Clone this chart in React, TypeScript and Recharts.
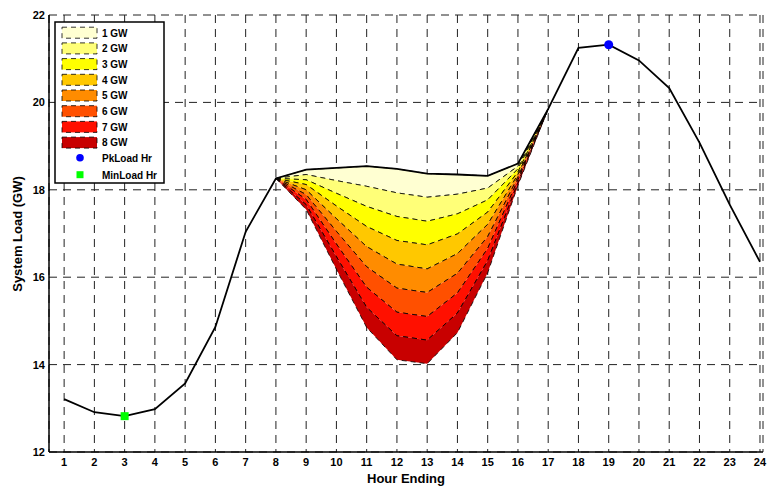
import type { ReactElement } from 'react'
import { Area, CartesianGrid, ComposedChart, Label, Line, Scatter, XAxis, YAxis } from 'recharts'

// 毎時のシステム負荷 (GW)
const HOURS = [1, 2, 3, 4, 5, 6, 7, 8, 9, 10, 11, 12, 13, 14, 15, 16, 17, 18, 19, 20, 21, 22, 23, 24]
const SYSTEM_LOAD = [
  13.21, 12.91, 12.82, 12.98, 13.57, 14.86, 17.04, 18.26, 18.46, 18.5, 18.54, 18.48, 18.37, 18.35,
  18.32, 18.6, 19.85, 21.25, 21.32, 20.96, 20.33, 19.08, 17.66, 16.35,
]

// シフト帯の下端 (hour 8..17)
const SHIFT_HOURS = [8, 9, 10, 11, 12, 13, 14, 15, 16, 17]
const LEVEL_1GW = [18.26, 18.35, 18.21, 18.08, 17.93, 17.83, 17.9, 18.04, 18.54, 19.85]
const LEVEL_2GW = [18.26, 18.23, 17.92, 17.62, 17.39, 17.28, 17.45, 17.77, 18.48, 19.85]
const LEVEL_3GW = [18.26, 18.12, 17.63, 17.16, 16.84, 16.74, 16.99, 17.49, 18.41, 19.85]
const LEVEL_4GW = [18.26, 18.0, 17.34, 16.7, 16.3, 16.19, 16.54, 17.21, 18.35, 19.85]
const LEVEL_5GW = [18.26, 17.89, 17.05, 16.24, 15.75, 15.65, 16.09, 16.93, 18.29, 19.85]
const LEVEL_6GW = [18.26, 17.78, 16.76, 15.77, 15.2, 15.1, 15.64, 16.66, 18.23, 19.85]
const LEVEL_7GW = [18.26, 17.66, 16.47, 15.31, 14.66, 14.56, 15.18, 16.38, 18.16, 19.85]
const LEVEL_8GW = [18.26, 17.55, 16.18, 14.85, 14.11, 14.02, 14.73, 16.1, 18.1, 19.85]
const LEVELS = [LEVEL_1GW, LEVEL_2GW, LEVEL_3GW, LEVEL_4GW, LEVEL_5GW, LEVEL_6GW, LEVEL_7GW, LEVEL_8GW]

const BAND_NAMES = ['1 GW', '2 GW', '3 GW', '4 GW', '5 GW', '6 GW', '7 GW', '8 GW']
const BAND_COLORS = ['#ffffd2', '#ffff78', '#ffff00', '#ffc800', '#ff8c00', '#ff5000', '#ff1000', '#c80000']

const PEAK_HOUR = 19
const MIN_HOUR = 3
const Y_TICKS = [12, 14, 16, 18, 20, 22]

const FONT = '"Liberation Sans", Arial, sans-serif'
const tickStyle = { fontFamily: FONT, fontWeight: 700, fontSize: 11, fill: '#000' }

type Row = Record<string, number | number[] | undefined>

function buildRows(): Row[] {
  return HOURS.map((h, i) => {
    const row: Row = { hour: h, load: SYSTEM_LOAD[i] }
    const j = SHIFT_HOURS.indexOf(h)
    if (j >= 0) {
      LEVELS.forEach((lv, k) => {
        const upper = k === 0 ? SYSTEM_LOAD[i] : LEVELS[k - 1][j]
        row[`b${k}`] = [lv[j], upper]
      })
    }
    return row
  })
}

function LegendBox(): ReactElement {
  const rowY = [32.7, 48.4, 64.1, 79.8, 95.5, 111.2, 126.9, 142.6]
  return (
    <svg
      width={767}
      height={487}
      style={{ position: 'absolute', left: 0, top: 0, pointerEvents: 'none' }}
    >
      <rect x={55} y={22} width={109} height={161} fill="#fff" stroke="#000" strokeWidth={1.5} />
      {BAND_NAMES.map((name, k) => (
        <g key={name}>
          <rect
            x={62}
            y={rowY[k] - 5.5}
            width={35}
            height={11}
            fill={BAND_COLORS[k]}
            stroke="#000"
            strokeWidth={0.8}
            strokeDasharray="5 4"
          />
          <text x={102} y={rowY[k] + 3.8} fontFamily={FONT} fontWeight={700} fontSize={10}>
            {name}
          </text>
        </g>
      ))}
      <circle cx={80} cy={157.7} r={3.8} fill="#0000ff" />
      <text x={102} y={161.5} fontFamily={FONT} fontWeight={700} fontSize={10}>
        PkLoad Hr
      </text>
      <rect x={76.5} y={171.2} width={7} height={7} fill="#00ff00" />
      <text x={102} y={178.5} fontFamily={FONT} fontWeight={700} fontSize={10}>
        MinLoad Hr
      </text>
    </svg>
  )
}

export default function App(): ReactElement {
  const rows = buildRows()
  const peak = [{ hour: PEAK_HOUR, mark: SYSTEM_LOAD[HOURS.indexOf(PEAK_HOUR)] }]
  const min = [{ hour: MIN_HOUR, mark: SYSTEM_LOAD[HOURS.indexOf(MIN_HOUR)] }]

  return (
    <div style={{ position: 'relative', width: 767, height: 487, background: '#fff' }}>
      <style>{'body{margin:0}'}</style>
      <ComposedChart
        width={767}
        height={487}
        data={rows}
        margin={{ top: 15, right: 4, bottom: 0, left: 0 }}
      >
        <CartesianGrid stroke="#222" strokeDasharray="8 6" strokeWidth={1} />
        <XAxis
          dataKey="hour"
          type="number"
          domain={[0.5, 24.1]}
          ticks={HOURS}
          interval={0}
          height={35}
          tickSize={0}
          tickMargin={6}
          tick={tickStyle}
          axisLine={{ stroke: '#000', strokeWidth: 1.5 }}
        >
          <Label
            content={() => (
              <text
                x={406}
                y={483}
                textAnchor="middle"
                fontFamily={FONT}
                fontWeight={700}
                fontSize={13}
              >
                Hour Ending
              </text>
            )}
          />
        </XAxis>
        <YAxis
          type="number"
          domain={[12, 22]}
          ticks={Y_TICKS}
          interval={0}
          width={49}
          tickSize={0}
          tickMargin={4}
          tick={tickStyle}
          axisLine={{ stroke: '#000', strokeWidth: 1.5 }}
        >
          <Label
            content={() => (
              <text
                x={22}
                y={234}
                transform="rotate(-90 22 234)"
                textAnchor="middle"
                fontFamily={FONT}
                fontWeight={700}
                fontSize={13}
              >
                System Load (GW)
              </text>
            )}
          />
        </YAxis>
        {BAND_NAMES.map((name, k) => (
          <Area
            key={name}
            name={name}
            dataKey={`b${k}`}
            type="linear"
            fill={BAND_COLORS[k]}
            fillOpacity={1}
            stroke="#000"
            strokeWidth={0.8}
            strokeDasharray="5 4"
            dot={false}
            activeDot={false}
            isAnimationActive={false}
          />
        ))}
        <Line
          dataKey="load"
          type="linear"
          stroke="#000"
          strokeWidth={1.8}
          dot={false}
          activeDot={false}
          isAnimationActive={false}
        />
        <Scatter data={peak} dataKey="mark" fill="#0000ff" shape="circle" isAnimationActive={false} />
        <Scatter data={min} dataKey="mark" fill="#00ff00" shape="square" isAnimationActive={false} />
      </ComposedChart>
      <LegendBox />
    </div>
  )
}
